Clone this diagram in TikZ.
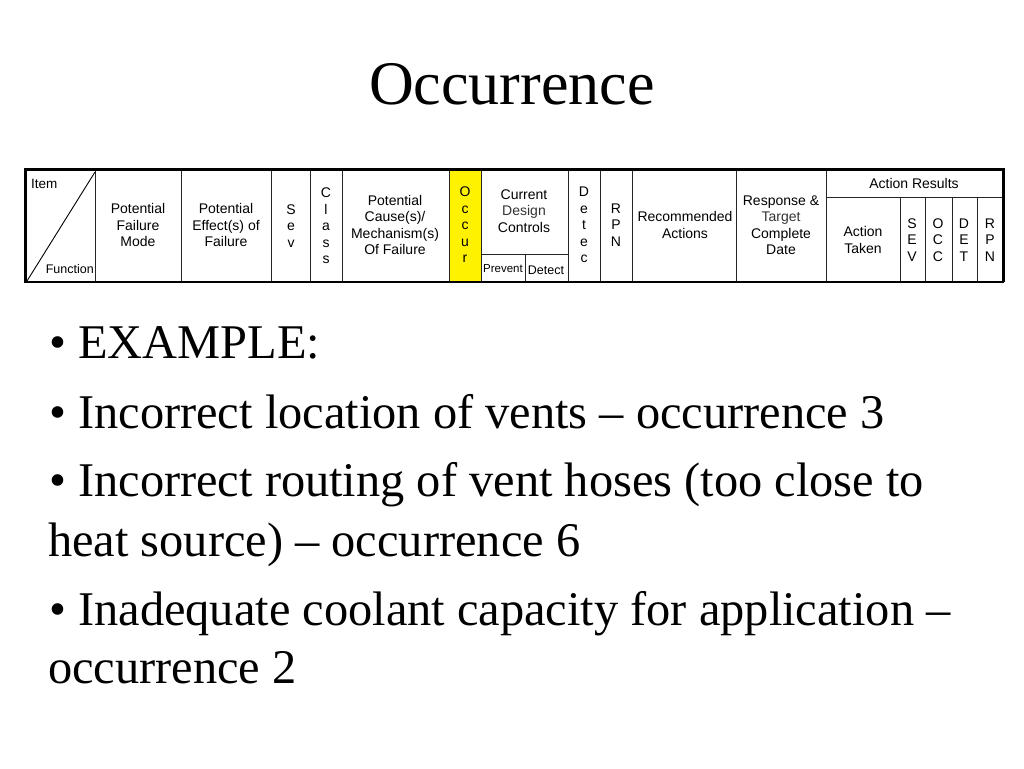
\documentclass[tikz,border=0pt]{standalone}
\usepackage{fontspec}
\setmainfont{Liberation Serif}
\newfontfamily\hdrfont{Liberation Sans}
\tikzset{
	hdr/.style={font=\hdrfont\fontsize{14}{16.5}\selectfont, align=center, inner sep=0pt},
	small hdr/.style={font=\hdrfont\fontsize{11.5}{14}\selectfont, inner sep=0pt},
	grid line/.style={line width=0.9pt, black!85},
	bullet line/.style={anchor=base west, inner sep=0pt, font=\fontsize{48.4}{58}\selectfont}
}
\begin{document}
\begin{tikzpicture}[x=1pt,y=-1pt]
	\useasboundingbox (0,0) rectangle (1024,768);
	\node[anchor=base, inner sep=0pt, font=\fontsize{62}{72}\selectfont] (title) at (512,104) {Occurrence};
	\fill[yellow] (449,169) rectangle (481,282);
	\foreach \x in {95,181,271,310,342,449,481,568,600,632,736,826}
		\draw[grid line] (\x,169) -- (\x,282);
	\foreach \x in {900,925,952,977}
		\draw[grid line] (\x,197) -- (\x,282);
	\draw[grid line] (826,197) -- (1003,197);
	\draw[grid line] (481,254) -- (568,254);
	\draw[grid line] (525,254) -- (525,282);
	\draw[line width=0.9pt] (27,281) -- (95,172);
	\draw[line width=3pt] (25,282) -- (25,169) -- (1003,169) -- (1003,282);
	\draw[line width=1.8pt] (24,282) -- (1004,282);
		\node[hdr, anchor=base west, font=\hdrfont\fontsize{13.5}{15}\selectfont] (item) at (31,188) {Item};
		\node[hdr, anchor=base east, font=\hdrfont\fontsize{12.5}{15}\selectfont] (function) at (94,273) {Function};
		\node[hdr] (mode) at (138,225) {Potential\\Failure\\Mode};
		\node[hdr] (effect) at (226,225) {Potential\\Effect(s) of\\Failure};
		\node[hdr] (sev) at (291,226) {S\\e\\v};
		\node[hdr] (class) at (326,226) {C\\l\\a\\s\\s};
		\node[hdr] (cause) at (395,225) {Potential\\Cause(s)/\\Mechanism(s)\\Of Failure};
		\node[hdr] (occur) at (465,225) {O\\c\\c\\u\\r};
		\node[hdr] (controls) at (524,211) {Current\\\textcolor{black!80}{Design}\\Controls};
		\node[small hdr] (prevent) at (503,269) {Prevent};
		\node[small hdr, font=\hdrfont\fontsize{12.5}{15}\selectfont] (detect) at (546,270) {Detect};
		\node[hdr] (detec) at (584,225) {D\\e\\t\\e\\c};
		\node[hdr] (rpn) at (616,225) {R\\P\\N};
		\node[hdr] (actions) at (685,225) {Recommended\\Actions};
		\node[hdr] (response) at (781,225) {Response \&\\\textcolor{black!80}{Target}\\Complete\\Date};
		\node[hdr] (results) at (914,183) {Action Results};
		\node[hdr] (taken) at (863,240) {Action\\Taken};
		\node[hdr] (rsev) at (912,240) {S\\E\\V};
		\node[hdr] (rocc) at (938,240) {O\\C\\C};
		\node[hdr] (rdet) at (964,240) {D\\E\\T};
		\node[hdr] (rrpn) at (990,240) {R\\P\\N};
	\node[bullet line] (example) at (49,358) {• EXAMPLE:};
	\node[bullet line] (vents) at (49,428) {• Incorrect location of vents – occurrence 3};
	\node[bullet line] (hoses) at (49,496) {• Incorrect routing of vent hoses (too close to};
	\node[bullet line] (hoses2) at (48,556) {heat source) – occurrence 6};
	\node[bullet line] (coolant) at (49,625) {• Inadequate coolant capacity for application –};
	\node[bullet line] (coolant2) at (48,683) {occurrence 2};
\end{tikzpicture}
\end{document}
